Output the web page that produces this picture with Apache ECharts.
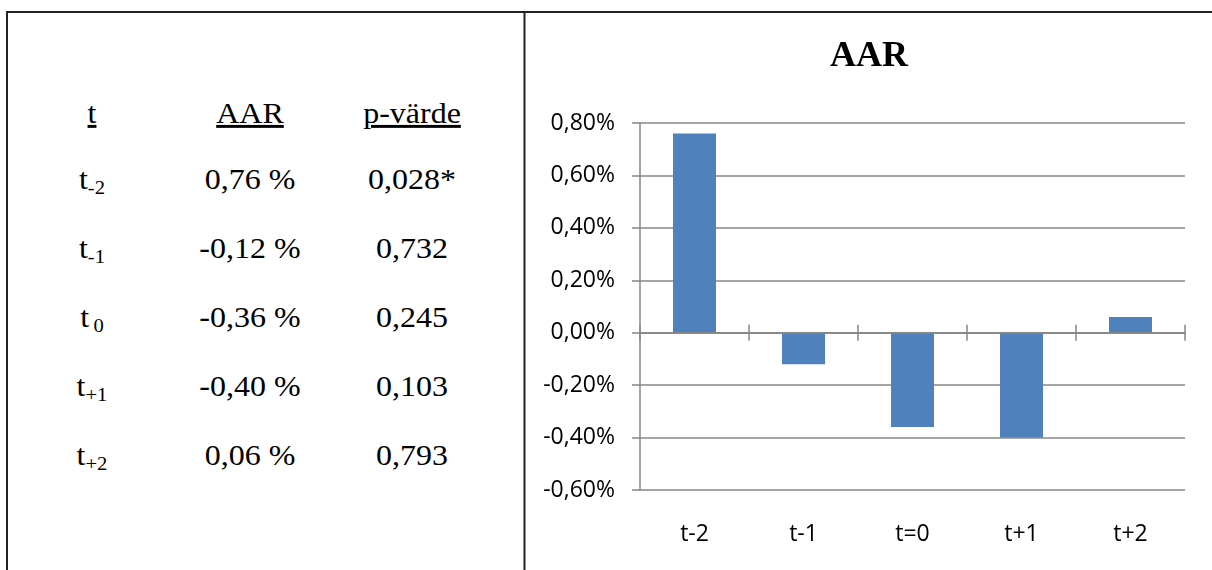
<!DOCTYPE html>
<html>
<head>
<meta charset="utf-8">
<script src="https://cdn.jsdelivr.net/npm/echarts@6/dist/echarts.min.js"></script>
<style>
  html, body { margin: 0; padding: 0; background: #fff; }
  #page { position: relative; width: 1212px; height: 570px; overflow: hidden; background: #fff; }
  #table { position: absolute; left: 0; top: 0; }
  #chart { position: absolute; left: 526px; top: 14px; width: 686px; height: 556px; }
</style>
</head>
<body>
<div id="page">
  <svg id="table" width="1212" height="570" xmlns="http://www.w3.org/2000/svg"></svg>
  <div id="chart"></div>
</div>
<script>
// Event-window periods (chart categories) and their subscripts in the table
const periods = ['t-2', 't-1', 't=0', 't+1', 't+2'];
const periodSubs = ['-2', '-1', '0', '+1', '+2'];
// Average abnormal return per period, in percent
const aarValues = [0.76, -0.12, -0.36, -0.40, 0.06];
// p-values as printed in the table
const pValues = ['0,028*', '0,732', '0,245', '0,103', '0,793'];
// Table column headings
const tableHeaders = ['t', 'AAR', 'p-värde'];
// Value axis range and step, in percent
const yMin = -0.6, yMax = 0.8, yStep = 0.2;

const fmtPct = (v, sep) => v.toFixed(2).replace('.', ',') + sep + '%';

// ---------- Left side: table and frame lines (SVG) ----------
const svg = document.getElementById('table');
const NS = 'http://www.w3.org/2000/svg';
function el(name, attrs, parent) {
  const e = document.createElementNS(NS, name);
  for (const k in attrs) e.setAttribute(k, attrs[k]);
  (parent || svg).appendChild(e);
  return e;
}
// frame
el('line', { x1: 6, y1: 12, x2: 1212, y2: 12, stroke: '#222', 'stroke-width': 2 });
el('line', { x1: 7, y1: 11, x2: 7, y2: 570, stroke: '#222', 'stroke-width': 2 });
el('line', { x1: 524.5, y1: 11, x2: 524.5, y2: 570, stroke: '#222', 'stroke-width': 2 });

const colX = [92, 250, 412];
const headY = 123;
const rowY = [189, 258, 327, 396, 465];
const FS = 29.5, SX = 1.085;

function cell(x, y, build) {
  const g = el('g', { transform: `translate(${x},${y}) scale(${SX},1)` });
  const t = el('text', {
    x: 0, y: 0, 'text-anchor': 'middle',
    'font-family': 'Liberation Serif, Times New Roman, serif',
    'font-size': FS, fill: '#000'
  }, g);
  build(t);
  return t;
}

tableHeaders.forEach((h, i) => {
  cell(colX[i], headY, t => {
    t.textContent = h;
    t.setAttribute('style', 'text-decoration: underline; text-decoration-thickness: 2px;');
  });
});

periods.forEach((p, i) => {
  cell(colX[0], rowY[i], t => {
    const a = el('tspan', {}, t); a.textContent = 't';
    const s = el('tspan', { 'font-size': 19, dy: 5, dx: periodSubs[i] === '0' ? 4 : 0 }, t);
    s.textContent = periodSubs[i];
  });
  cell(colX[1], rowY[i], t => { t.textContent = fmtPct(aarValues[i], ' '); });
  cell(colX[2], rowY[i], t => { t.textContent = pValues[i]; });
});

// ---------- Right side: AAR bar chart ----------
const chart = echarts.init(document.getElementById('chart'), null, { renderer: 'canvas' });
const gridRect = { left: 114, top: 109, right: 27, bottom: 80 };
const axisGray = '#878787';
const labelFont = { fontFamily: 'Open Sans', fontSize: 23, color: '#000' };

chart.setOption({
  animation: false,
  title: {
    text: 'AAR',
    left: 'center',
    top: 20,
    textStyle: { fontFamily: 'Liberation Serif', fontWeight: 'bold', fontSize: 36, color: '#000' }
  },
  grid: [
    Object.assign({}, gridRect),
    Object.assign({}, gridRect)
  ],
  xAxis: [
    { // category labels along the bottom
      type: 'category', gridIndex: 0, position: 'bottom', data: periods,
      axisLine: { show: false, onZero: false }, axisTick: { show: false },
      axisLabel: Object.assign({ margin: 33 }, labelFont)
    },
    { // zero line with upward tick marks
      type: 'category', gridIndex: 0, position: 'top', data: periods, z: 3,
      axisLine: { show: true, onZero: true, lineStyle: { color: axisGray, width: 1.5 } },
      axisTick: { show: true, length: 8, lineStyle: { color: axisGray, width: 1.5 } },
      axisLabel: { show: false }
    },
    { // downward tick marks at the zero line
      type: 'category', gridIndex: 1, position: 'bottom', data: periods, z: 3,
      axisLine: { show: true, onZero: true, lineStyle: { color: axisGray, width: 1.5 } },
      axisTick: { show: true, length: 8, lineStyle: { color: axisGray, width: 1.5 } },
      axisLabel: { show: false }
    }
  ],
  yAxis: [
    {
      type: 'value', gridIndex: 0, min: yMin, max: yMax, interval: yStep,
      axisLine: { show: true, lineStyle: { color: axisGray, width: 1.5 } },
      axisTick: { show: true, length: 8, lineStyle: { color: axisGray, width: 1.5 } },
      splitLine: { show: true, lineStyle: { color: axisGray, width: 1.5 } },
      axisLabel: Object.assign({ margin: 25, formatter: v => fmtPct(v, '') }, labelFont)
    },
    {
      type: 'value', gridIndex: 1, min: yMin, max: yMax, interval: yStep, show: false
    }
  ],
  series: [
    {
      type: 'bar', xAxisIndex: 0, yAxisIndex: 0,
      data: aarValues, barWidth: 43,
      itemStyle: { color: '#4F81BD' }
    }
  ]
});
</script>
</body>
</html>
